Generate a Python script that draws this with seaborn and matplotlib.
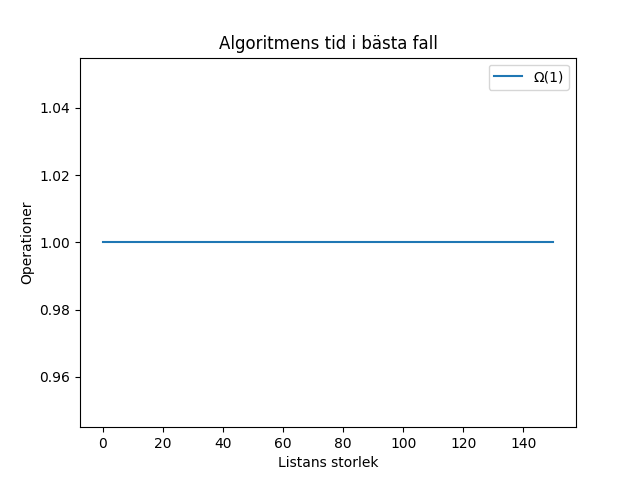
import matplotlib
matplotlib.use("Agg")
import matplotlib.pyplot as plt
import seaborn as sns
import pandas as pd

list_sizes = [0, 150]
operations = [1, 1]
series_label = "Ω(1)"

df = pd.DataFrame({"n": list_sizes, "ops": operations})
fig, ax = plt.subplots(figsize=(6.4, 4.8), dpi=100)
sns.lineplot(data=df, x="n", y="ops", ax=ax, label=series_label, color="#1f77b4")
ax.set_title("Algoritmens tid i bästa fall")
ax.set_xlabel("Listans storlek")
ax.set_ylabel("Operationer")
ax.legend(loc="upper right")
fig.savefig("out.png")
